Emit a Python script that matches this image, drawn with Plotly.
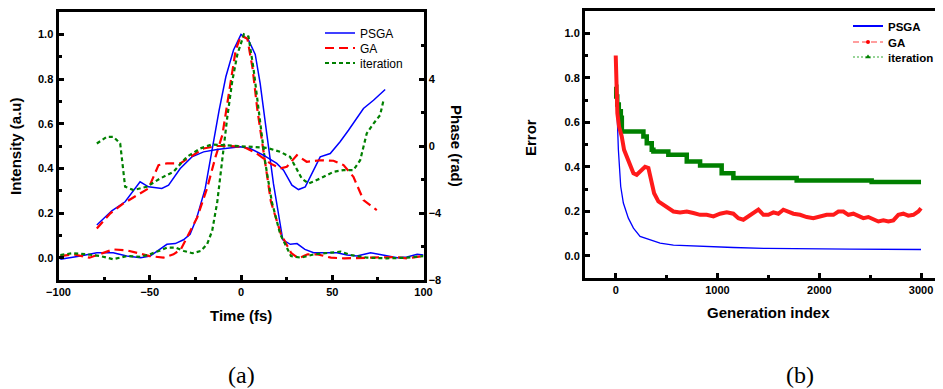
import plotly.graph_objects as go

# ---------------- (a) intensity & phase vs time ----------------
t_psga_int = [-99, -88, -79, -70, -62.6, -55, -49.8, -44.3, -40.6, -36, -31.5, -27.9, -24.2, -19.6, -16, -12,
              -8.3, -4.1, 0, 4.1, 7.8, 10.5, 14.2, 17.8, 22.9, 27, 30.7, 35, 39.8, 47, 52.6, 58, 63.5, 71, 78,
              85.6, 91, 96.5, 100]
i_psga = [-0.007, 0.007, 0.022, 0.022, 0.007, 0.0, 0.007, 0.037, 0.06, 0.063, 0.08, 0.105, 0.18, 0.31, 0.48, 0.66,
          0.81, 0.93, 1.0, 0.975, 0.91, 0.78, 0.55, 0.33, 0.08, 0.06, 0.063, 0.037, 0.022, 0.022, 0.022, 0.012,
          0.007, 0.022, 0.012, 0.0, 0.003, 0.015, 0.012]

t_ga_int = [-99, -92, -83, -75, -70, -62.6, -57, -50, -42.5, -37, -33, -28.8, -24, -18.6, -14, -10.2, -6.6, -2.9,
            0, 3.5, 6.3, 9, 12.8, 16.4, 21.9, 27.4, 31.4, 36.5, 42, 49.3, 56.6, 65.8, 76.7, 84, 91, 99.5]
i_ga = [0.007, 0.015, 0.0, 0.022, 0.037, 0.033, 0.022, 0.007, 0.0, 0.015, 0.037, 0.105, 0.18, 0.31, 0.45, 0.55,
        0.73, 0.93, 0.995, 0.98, 0.85, 0.66, 0.45, 0.25, 0.105, 0.022, -0.003, 0.015, 0.015, 0.0, -0.003, 0.0,
        0.003, 0.003, -0.003, 0.007]

t_it_int = [-99, -92, -84.5, -77, -70, -62.6, -55, -50, -44, -40.5, -35.9, -31.3, -26.7, -22, -18.6, -15.8, -13,
            -10.2, -7.5, -4.8, -2, 1.6, 4.1, 6.8, 9.6, 13.2, 16.9, 21.5, 27.4, 32.9, 40, 47.3, 54.6, 60, 69, 80,
            91, 100]
i_it = [0.012, 0.02, 0.015, 0.007, -0.007, 0.007, 0.004, 0.015, 0.033, 0.045, 0.045, 0.03, 0.02, 0.03, 0.06, 0.12,
        0.25, 0.45, 0.63, 0.79, 0.91, 1.0, 0.99, 0.85, 0.66, 0.43, 0.25, 0.105, 0.007, 0.0, 0.015, 0.02, 0.027,
        0.012, 0.0, -0.003, 0.0, 0.007]

t_psga_ph = [-79, -70.8, -63.5, -55.3, -50.7, -43.4, -39.7, -33.3, -26.9, -20.5, -13.2, -6, -0.5, 5, 12.3, 19.6,
             23.3, 27.9, 31.5, 35.2, 43.4, 48.9, 54.3, 58.9, 67.1, 72.6, 79]
p_psga = [-4.72, -3.87, -3.33, -2.14, -2.44, -2.53, -2.34, -1.34, -0.65, -0.35, -0.21, -0.11, -0.05, -0.15, -0.55,
          -1.04, -1.44, -2.34, -2.6, -2.44, -0.65, -0.45, 0.25, 0.94, 2.24, 2.73, 3.37]

t_ga_ph = [-79, -71.7, -64.4, -55.3, -50.7, -45.2, -40.6, -33.3, -27.9, -20.5, -13.2, -6, 1.4, 8.7, 16, 21.5, 25.1,
           30.6, 36, 43.4, 50.7, 56.2, 61.6, 67.1, 74.4]
p_ga = [-4.92, -4.03, -3.43, -2.83, -2.53, -1.14, -1.04, -1.04, -0.65, -0.15, 0.0, 0.0, -0.05, -0.45, -1.04, -1.34,
        -1.24, -0.55, -0.94, -0.85, -0.88, -1.14, -1.84, -3.23, -3.83]

t_it_ph = [-79, -73.5, -69.9, -66.2, -63.5, -58.9, -51.6, -44.3, -37, -29.7, -22.4, -16, -9.6, -0.5, 6.8, 14.2,
           21.5, 26.9, 33.3, 37, 43.4, 50.7, 56.2, 61.6, 65.3, 68.9, 72.6, 76.2, 78.1]
p_it = [0.15, 0.55, 0.55, 0.15, -2.43, -2.63, -2.43, -1.94, -1.54, -0.65, -0.15, 0.09, 0.05, 0.0, -0.05, -0.11,
        -0.35, -0.65, -1.94, -2.24, -1.94, -1.54, -1.44, -1.44, -0.85, 0.75, 1.34, 1.84, 2.73]

# ---------------- (b) error vs generation ----------------
g_psga = [0, 10, 26, 49, 75, 124, 174, 239, 337, 436, 567, 829, 1156, 1484, 1811, 2302, 3000]
e_psga = [0.82, 0.656, 0.476, 0.311, 0.237, 0.169, 0.124, 0.087, 0.072, 0.057, 0.048, 0.042, 0.037, 0.033, 0.031,
          0.030, 0.028]

g_ga = [0, 3, 10, 16, 33, 59, 82, 108, 141, 174, 206, 239, 288, 321, 354, 377, 419, 468, 517, 567, 632, 698, 763,
        829, 894, 960, 1025, 1091, 1156, 1205, 1254, 1304, 1353, 1402, 1451, 1500, 1549, 1598, 1647, 1696, 1746,
        1811, 1877, 1942, 2008, 2073, 2139, 2188, 2237, 2286, 2335, 2384, 2433, 2482, 2532, 2581, 2630, 2679,
        2728, 2777, 2826, 2875, 2925, 2974, 3000]
e_ga = [0.90, 0.79, 0.716, 0.64, 0.58, 0.536, 0.476, 0.446, 0.40, 0.371, 0.364, 0.379, 0.40, 0.394, 0.326, 0.281,
        0.244, 0.229, 0.214, 0.199, 0.195, 0.199, 0.192, 0.184, 0.184, 0.177, 0.189, 0.195, 0.189, 0.169, 0.162,
        0.177, 0.192, 0.207, 0.184, 0.184, 0.195, 0.189, 0.207, 0.199, 0.189, 0.184, 0.174, 0.169, 0.177, 0.184,
        0.184, 0.199, 0.199, 0.184, 0.189, 0.18, 0.169, 0.174, 0.162, 0.154, 0.159, 0.154, 0.159, 0.184, 0.189,
        0.18, 0.184, 0.199, 0.214]

g_it = [0, 5, 15, 30, 50, 60, 272, 305, 354, 370, 517, 698, 829, 1041, 1156, 1778, 2515, 3000]
e_it = [0.76, 0.716, 0.68, 0.65, 0.62, 0.558, 0.536, 0.506, 0.476, 0.469, 0.454, 0.424, 0.406, 0.371, 0.349,
        0.338, 0.331, 0.331]

BLUE = "#0000ff"
RED = "#ff0000"
GREEN = "#008000"

# the page places the figure 8px from the top-left corner of the window
OFF = 8
W, H = 943 - OFF, 389 - OFF


def px(x):
    return (x - OFF) / W


def py(y):
    return 1 - (y - OFF) / H


fig = go.Figure()

# (a) intensities (legend) and phases
fig.add_trace(go.Scatter(x=t_psga_int, y=i_psga, name="PSGA", mode="lines",
                         line=dict(color=BLUE, width=1.5), xaxis="x", yaxis="y", legend="legend"))
fig.add_trace(go.Scatter(x=t_ga_int, y=i_ga, name="GA", mode="lines",
                         line=dict(color=RED, width=2.2, dash="9px,5px"), xaxis="x", yaxis="y", legend="legend2"))
fig.add_trace(go.Scatter(x=t_it_int, y=i_it, name="iteration", mode="lines",
                         line=dict(color=GREEN, width=2.2, dash="4px,3px"), xaxis="x", yaxis="y", legend="legend3"))
fig.add_trace(go.Scatter(x=t_psga_ph, y=p_psga, mode="lines", showlegend=False,
                         line=dict(color=BLUE, width=1.5), xaxis="x", yaxis="y2"))
fig.add_trace(go.Scatter(x=t_ga_ph, y=p_ga, mode="lines", showlegend=False,
                         line=dict(color=RED, width=2.2, dash="9px,5px"), xaxis="x", yaxis="y2"))
fig.add_trace(go.Scatter(x=t_it_ph, y=p_it, mode="lines", showlegend=False,
                         line=dict(color=GREEN, width=2.2, dash="4px,3px"), xaxis="x", yaxis="y2"))

# (b) errors
fig.add_trace(go.Scatter(x=g_psga, y=e_psga, mode="lines", showlegend=False,
                         line=dict(color=BLUE, width=1.3), xaxis="x2", yaxis="y3"))
fig.add_trace(go.Scatter(x=g_it, y=e_it, mode="lines", showlegend=False, line_shape="hv",
                         line=dict(color=GREEN, width=4.5), xaxis="x2", yaxis="y3"))
fig.add_trace(go.Scatter(x=g_ga, y=e_ga, mode="lines", showlegend=False,
                         line=dict(color="#ff1a1a", width=4), xaxis="x2", yaxis="y3"))
# legend entries for (b)
fig.add_trace(go.Scatter(x=[None], y=[None], name="PSGA", mode="lines",
                         line=dict(color=BLUE, width=2), xaxis="x2", yaxis="y3", legend="legend4"))
fig.add_trace(go.Scatter(x=[None], y=[None], name="GA", mode="lines+markers",
                         line=dict(color="#ff7f7f", width=1.5, dash="6px,3px"),
                         marker=dict(color=RED, size=4, symbol="circle"), xaxis="x2", yaxis="y3", legend="legend5"))
fig.add_trace(go.Scatter(x=[None], y=[None], name="iteration", mode="lines+markers",
                         line=dict(color="#33aa33", width=1.2, dash="2px,2px"),
                         marker=dict(color=GREEN, size=5, symbol="triangle-up"), xaxis="x2", yaxis="y3",
                         legend="legend6"))

tickfont = dict(family="Liberation Sans", size=11, color="black", weight="bold")
common = dict(showline=True, linewidth=3, linecolor="black", ticks="inside", ticklen=5, tickwidth=2.5,
              tickcolor="black", showgrid=False, zeroline=False, tickfont=tickfont, automargin=False)


def leg(x_px, y_px, bold, size):
    f = dict(family="Liberation Sans", size=size, color="black")
    if bold:
        f["weight"] = "bold"
    return dict(x=px(x_px), y=py(y_px), xanchor="left", yanchor="middle", bgcolor="rgba(0,0,0,0)",
                font=f, itemwidth=30, borderwidth=0)


fig.update_layout(
    width=W, height=H, margin=dict(l=0, r=0, t=0, b=0, autoexpand=False),
    paper_bgcolor="white", plot_bgcolor="white",
    font=dict(family="Liberation Sans", color="black"),
    xaxis=dict(domain=[px(58.5), px(423.5)], range=[-100, 100], dtick=50, tick0=0, mirror=True,
               minor=dict(ticks="inside", dtick=25, ticklen=3, tickwidth=2.5, tickcolor="black"),
               anchor="y", **common),
    yaxis=dict(domain=[py(280), py(12)], range=[-0.1, 1.1], dtick=0.2, tick0=0, tickformat=".1f",
               minor=dict(ticks="inside", dtick=0.1, ticklen=3, tickwidth=2.5, tickcolor="black"),
               anchor="x", **common),
    yaxis2=dict(range=[-8, 8], dtick=4, tick0=0, overlaying="y", side="right", anchor="x",
                minor=dict(ticks="inside", dtick=2, ticklen=3, tickwidth=2.5, tickcolor="black"),
                **common),
    xaxis2=dict(domain=[px(585), 1.0], range=[-302, 3216], dtick=1000, tick0=0, mirror=True,
                minor=dict(ticks="inside", dtick=500, ticklen=3, tickwidth=2.5, tickcolor="black"),
                anchor="y3", **common),
    yaxis3=dict(domain=[py(278), py(11)], range=[-0.1, 1.1], dtick=0.2, tick0=0, tickformat=".1f",
                minor=dict(ticks="inside", dtick=0.1, ticklen=3, tickwidth=2.5, tickcolor="black"),
                anchor="x2", **common),
    legend=leg(320, 33, False, 12),
    legend2=leg(320, 48, False, 12),
    legend3=leg(320, 63, False, 12),
    legend4=leg(848, 26, True, 11.5),
    legend5=leg(848, 42, True, 11.5),
    legend6=leg(848, 57, True, 11.5),
)

title_font = dict(family="Liberation Sans", size=15, color="black", weight="bold")
label_font = dict(family="Liberation Serif", size=24, color="black")
ann = [
    dict(text="Time (fs)", x=px(241), y=py(315), font=title_font),
    dict(text="Generation index", x=px(768), y=py(312), font=title_font),
    dict(text="Intensity (a.u)", x=px(15), y=py(146), font=title_font, textangle=-90),
    dict(text="Phase (rad)", x=px(457), y=py(146), font=title_font, textangle=90),
    dict(text="Error", x=px(530), y=py(138), font=title_font, textangle=-90),
    dict(text="(a)", x=px(242), y=py(375), font=label_font),
    dict(text="(b)", x=px(800), y=py(375), font=label_font),
]
for a in ann:
    fig.add_annotation(xref="paper", yref="paper", showarrow=False, xanchor="center", yanchor="middle", **a)

fig.write_html("out.html")
